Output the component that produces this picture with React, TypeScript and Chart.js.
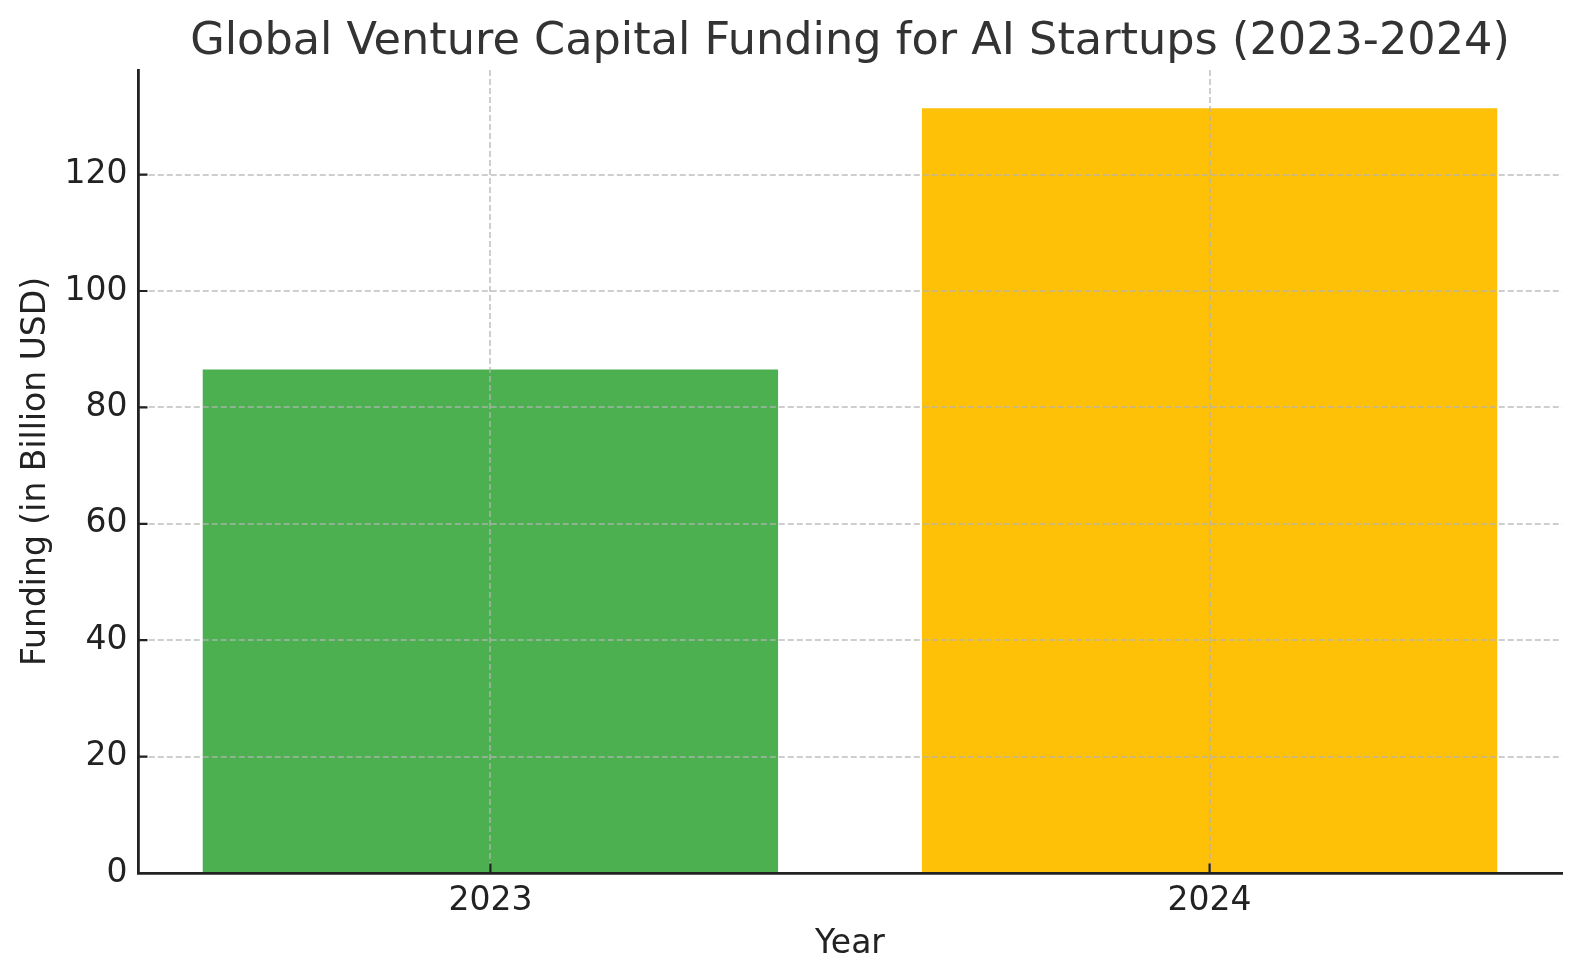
import React, { useEffect, useRef } from 'react';
import { Chart, registerables } from 'chart.js';

Chart.register(...registerables);

const years: string[] = ['2023', '2024'];
const funding: number[] = [86.5, 131.4];
const barColors: string[] = ['#4CAF50', '#FFC107'];
const yTickValues: number[] = [0, 20, 40, 60, 80, 100, 120];
const chartTitle = 'Global Venture Capital Funding for AI Startups (2023-2024)';
const xAxisTitle = 'Year';
const yAxisTitle = 'Funding (in Billion USD)';

const FONT = 'DejaVu Sans';

const inwardTicks = {
  id: 'inwardTicks',
  afterDraw(chart: any) {
    const { ctx, chartArea, scales } = chart;
    const len = 9.5;
    ctx.save();
    ctx.strokeStyle = '#222222';
    ctx.lineWidth = 2.2;
    ctx.beginPath();
    scales.y.ticks.forEach((_t: any, i: number) => {
      const y = scales.y.getPixelForTick(i);
      ctx.moveTo(chartArea.left, y);
      ctx.lineTo(chartArea.left + len, y);
    });
    scales.x.ticks.forEach((_t: any, i: number) => {
      const x = scales.x.getPixelForTick(i);
      ctx.moveTo(x, chartArea.bottom);
      ctx.lineTo(x, chartArea.bottom - len);
    });
    ctx.stroke();
    ctx.restore();
  },
};

export default function App() {
  const canvasRef = useRef<HTMLCanvasElement | null>(null);

  useEffect(() => {
    if (!canvasRef.current) return;
    Chart.defaults.font.family = FONT;
    const yMax = Math.max(...funding) * 1.05;
    const gridColor = 'rgba(180,180,180,0.65)';
    const chart = new Chart(canvasRef.current, {
      type: 'bar',
      data: {
        datasets: [
          {
            data: funding.map((v, i) => ({ x: i, y: v })),
            backgroundColor: barColors,
            borderWidth: 0,
            barPercentage: 0.8,
            categoryPercentage: 1,
          },
        ],
      },
      options: {
        responsive: false,
        animation: false,
        devicePixelRatio: 1,
        layout: { padding: { left: 0, right: 18, top: 0, bottom: 0 } },
        plugins: {
          legend: { display: false },
          tooltip: { enabled: false },
          title: {
            display: true,
            text: chartTitle,
            fullSize: false,
            color: '#333333',
            font: { family: FONT, size: 44.6, weight: 'normal' },
            padding: { top: 16, bottom: 0.5 },
          },
        },
        scales: {
          x: {
            type: 'linear',
            offset: false,
            min: -0.49,
            max: 1.49,
            afterBuildTicks: (s: any) => {
              s.ticks = years.map((_y, i) => ({ value: i }));
            },
            afterFit: (s: any) => {
              s.height = 107;
            },
            ticks: {
              callback: (v: any) => years[Math.round(Number(v))],
              color: '#222222',
              font: { family: FONT, size: 33 },
              padding: 9,
              maxRotation: 0,
              autoSkip: false,
            },
            grid: {
              offset: false,
              color: gridColor,
              lineWidth: 2,
              drawTicks: false,
              z: 1,
            },
            border: { display: true, color: '#222222', width: 2.8, dash: [6, 3], z: 2 },
            title: {
              display: true,
              text: xAxisTitle,
              color: '#222222',
              font: { family: FONT, size: 33 },
              padding: { top: 0, bottom: 15.6 },
            },
          },
          y: {
            type: 'linear',
            min: 0,
            max: yMax,
            afterBuildTicks: (s: any) => {
              s.ticks = yTickValues.map((v) => ({ value: v }));
            },
            afterFit: (s: any) => {
              s.width = 138;
            },
            ticks: {
              color: '#222222',
              font: { family: FONT, size: 33 },
              padding: 10.5,
            },
            grid: {
              color: gridColor,
              lineWidth: 2,
              drawTicks: false,
              z: 1,
            },
            border: { display: true, color: '#222222', width: 2.8, dash: [6, 3], z: 2 },
            title: {
              display: true,
              text: yAxisTitle,
              color: '#222222',
              font: { family: FONT, size: 33 },
              padding: { top: 17, bottom: 0 },
            },
          },
        },
      } as any,
      plugins: [inwardTicks],
    });
    return () => chart.destroy();
  }, []);

  return (
    <div style={{ position: 'absolute', left: 0, top: 0, width: 1580, height: 980, background: '#ffffff' }}>
      <canvas ref={canvasRef} width={1580} height={980} />
    </div>
  );
}
